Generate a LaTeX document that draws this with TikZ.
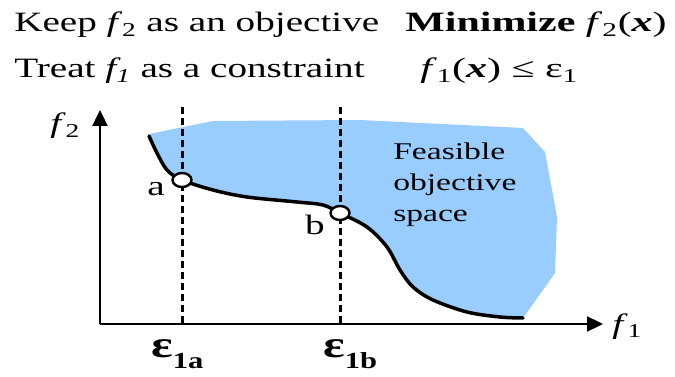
\documentclass[tikz,border=0pt]{standalone}
\usepackage{fontspec}
\setmainfont{Liberation Serif}
\usetikzlibrary{arrows.meta,shapes.geometric}
\definecolor{feas}{RGB}{153,204,255}
\newcommand\epslab[1]{\textbf{ε}\raisebox{-0.3em}{\fontsize{23}{26}\selectfont\textbf{#1}}}
\begin{document}
\begin{tikzpicture}[x=1pt,y=-1pt,
  txt/.style={inner sep=0pt,anchor=base west,xscale=1.4,font=\fontsize{28}{32}\selectfont},
  axis/.style={line width=2.4pt,-{Triangle[length=16pt,width=15pt]}},
  cut/.style={line width=3pt,dash pattern=on 7pt off 4pt},
  front/.style={line width=3.5pt,line cap=round},
  pt/.style={ellipse,draw,fill=white,line width=2.4pt,minimum width=19pt,minimum height=14pt,inner sep=0pt}]
\useasboundingbox (0,0) rectangle (675,377);
% feasible region
\fill[feas] plot[smooth,tension=0.55] coordinates {(149,136) (157,153) (167,170) (182,180) (213,190) (247,197) (297,202) (323,205) (340,213) (367,227) (387,247) (400,270) (413,287) (433,300) (467,312) (500,317) (523,318)}
  -- (555,273) -- (557,217) -- (545,152) -- (523,128) -- (360,120) -- (213,121) -- (149,134) -- cycle;
% axes
\coordinate (O) at (100,324);
\coordinate (ytip) at (100,110);
\coordinate (xtip) at (603,324);
\draw[axis] (O) -- (ytip);
\draw[axis] (O) -- (xtip);
% dashed constraint lines
\coordinate (ta) at (182,107);
\coordinate (ba) at (182,324);
\coordinate (tb) at (340,107);
\coordinate (bb) at (340,324);
\draw[cut] (ta) -- (ba);
\draw[cut] (tb) -- (bb);
% Pareto front
\draw[front] plot[smooth,tension=0.55] coordinates {(149,136) (157,153) (167,170) (182,180) (213,190) (247,197) (297,202) (323,205) (340,213) (367,227) (387,247) (400,270) (413,287) (433,300) (467,312) (500,317) (523,318)};
\node[pt] (pa) at (182,180) {};
\node[pt] (pb) at (340,213) {};
\node[txt,anchor=center] (la) at (156,189) {a};
\node[txt,anchor=center] (lb) at (315,225) {b};
% labels
\node[txt] (f2lab) at (50,133) {\textit{f}\textsubscript{2}};
\node[txt] (f1lab) at (612,333) {\textit{f}\textsubscript{1}};
\node[txt,xscale=0.95,font=\fontsize{38}{42}\selectfont] (e1a) at (151,357) {\epslab{1a}};
\node[txt,xscale=0.95,font=\fontsize{38}{42}\selectfont] (e1b) at (323,357) {\epslab{1b}};
\node[txt,anchor=north west,align=left,font=\fontsize{24}{31}\selectfont] (feas) at (393,143) {Feasible\\objective\\space};
% header
\node[txt] (keep) at (14,32) {Keep \textit{f}\textsubscript{2} as an objective};
\node[txt] (treat) at (14,78) {Treat \textit{f\textsubscript{1}} as a constraint};
\node[txt,xscale=1.07] (mini) at (405,32) {\textbf{Minimize} \textit{f}\textsubscript{2}(\textbf{\textit{x}})};
\node[txt,xscale=1.07] (cons) at (420,78) {\textit{f}\textsubscript{1}(\textbf{\textit{x}}) ≤ ε\textsubscript{1}};
\end{tikzpicture}
\end{document}
